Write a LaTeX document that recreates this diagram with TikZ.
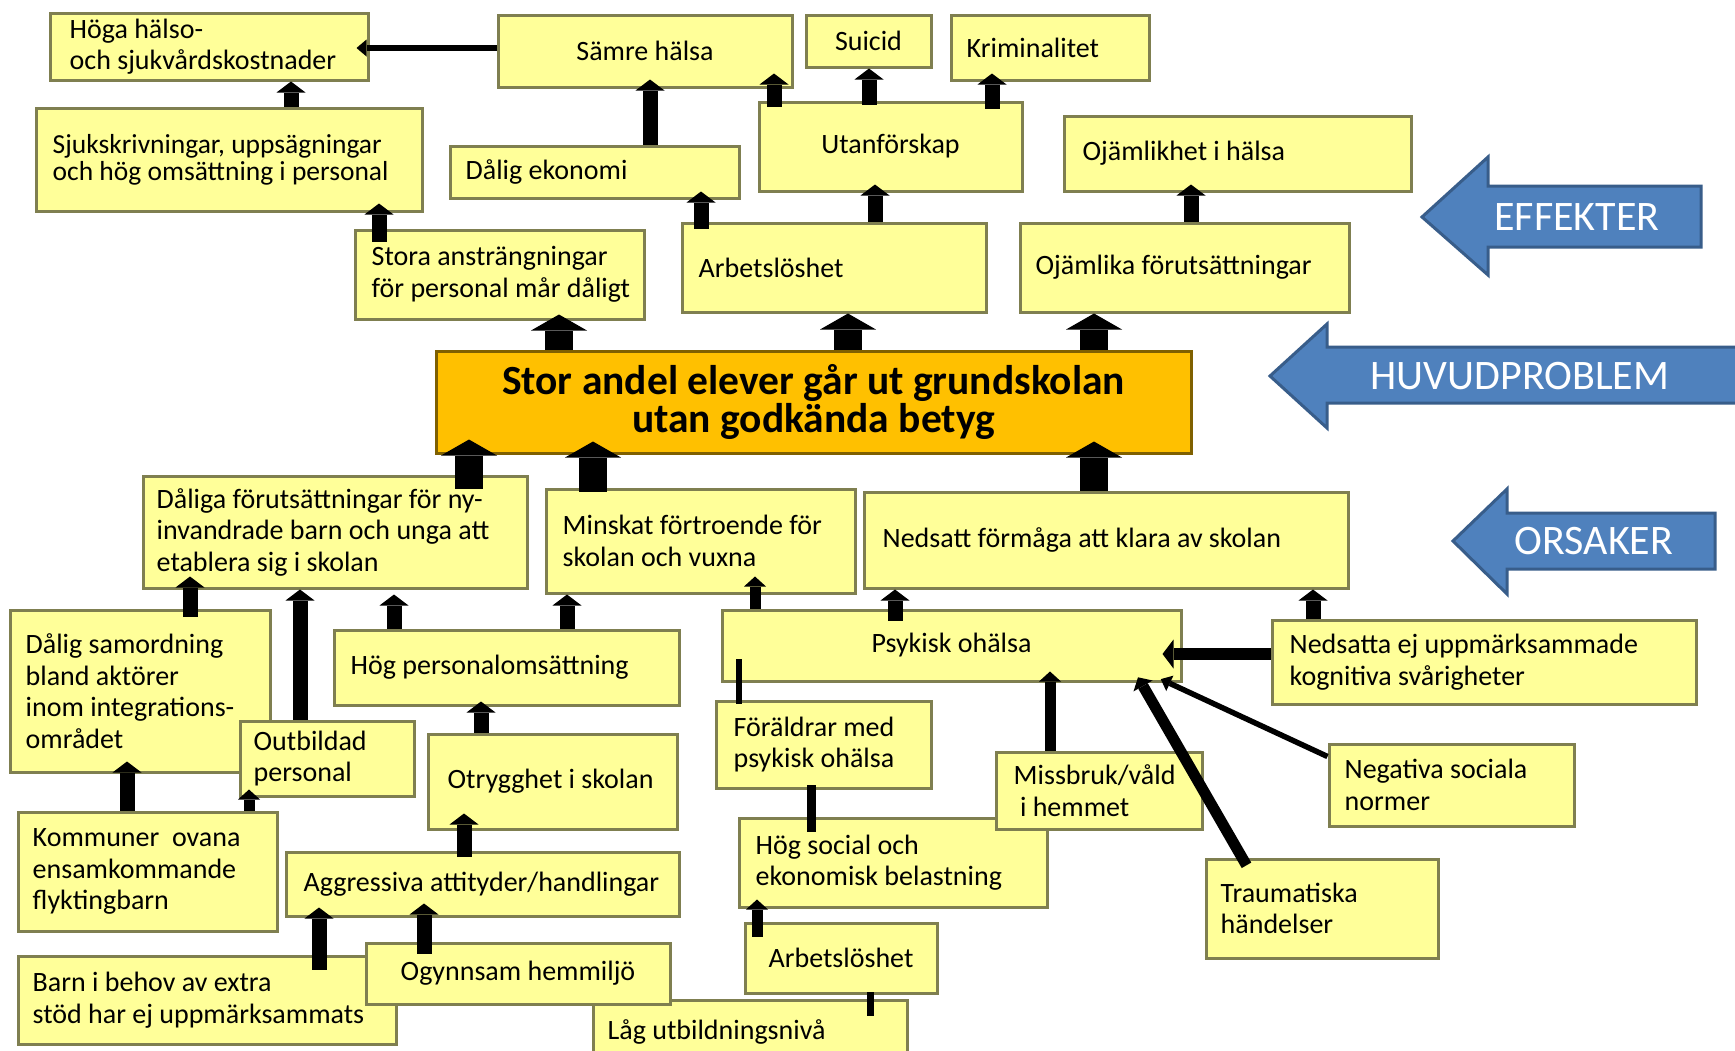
\documentclass[tikz,border=0pt]{standalone}
\usepackage{fontspec}
\setmainfont{Carlito}
\usepackage{xcolor}
\usetikzlibrary{arrows.meta}

\definecolor{gul}{HTML}{FFFF99}
\definecolor{kant}{HTML}{7F7F50}
\definecolor{huvudfarg}{HTML}{FFC000}
\definecolor{huvudkant}{HTML}{7F6000}
\definecolor{bla}{HTML}{4F81BD}
\definecolor{blakant}{HTML}{385D8A}

\begin{document}
\begin{tikzpicture}[x=1pt,y=-1pt]
    \tikzset{
        boks/.style={draw=kant, fill=gul, line width=3pt, inner sep=0pt},
        mittboks/.style={boks, font=\fontsize{28}{31.5}\selectfont},
        tekst/.style={anchor=west, inner sep=0pt, align=left, font=\fontsize{28}{31.5}\selectfont},
        storpil/.style={line width=28pt, -{Triangle[width=56pt,length=16pt,line width=0pt]}},
        pil/.style={line width=15pt, -{Triangle[width=29pt,length=11pt,line width=0pt]}},
        smalpil/.style={line width=11pt, -{Triangle[width=22pt,length=10pt,line width=0pt]}},
        tunnpil/.style={line width=5.5pt, -{Triangle[width=17pt,length=10pt,line width=0pt]}},
        linje/.style={line width=9pt},
        blapil/.style={fill=bla, draw=blakant, line width=3pt, line join=miter},
        blatekst/.style={text=white, inner sep=0pt, font=\fontsize{42}{42}\selectfont}
    }
    \useasboundingbox (0,0) rectangle (1735,1050);
    \clip (0,0) rectangle (1735,1050);
    \fill[white] (0,0) rectangle (1735,1050);

    % effekter, top row
    \node[boks, minimum width=318, minimum height=67] (hoga) at (209,46.5) {};
    \node[tekst] (hogatext) at ([xshift=21pt]hoga.west) {Höga hälso-\\och sjukvårdskostnader};
    \node[mittboks, minimum width=294, minimum height=72] (samre) at (645,51) {Sämre hälsa};
    \node[mittboks, minimum width=125, minimum height=52] (suicid) at (868.5,41) {Suicid};
    \node[boks, minimum width=198, minimum height=65] (krim) at (1050,47.5) {};
    \node[tekst] (krimtext) at ([xshift=17pt]krim.west) {Kriminalitet};

    % effekter, second row
    \node[boks, minimum width=386, minimum height=103] (sjuk) at (229,159.5) {};
    \node[tekst, font=\fontsize{27.5}{27}\selectfont] (sjuktext) at ([xshift=18pt]sjuk.west) {Sjukskrivningar, uppsägningar\\och hög omsättning i personal};
    \node[boks, minimum width=289, minimum height=52] (ekon) at (594.5,172) {};
    \node[tekst] (ekontext) at ([xshift=17pt]ekon.west) {Dålig ekonomi};
    \node[mittboks, minimum width=263, minimum height=89] (utanf) at (890.5,146.5) {Utanförskap};
    \node[boks, minimum width=347, minimum height=75] (ojh) at (1237.5,153.5) {};
    \node[tekst] (ojhtext) at ([xshift=20pt]ojh.west) {Ojämlikhet i hälsa};

    % effekter, third row
    \node[boks, minimum width=289, minimum height=89] (stora) at (499.5,274.5) {};
    \node[tekst] (storatext) at ([xshift=18pt]stora.west) {Stora ansträngningar\\för personal mår dåligt};
    \node[boks, minimum width=304, minimum height=89] (arb1) at (834,267.5) {};
    \node[tekst] (arb1text) at ([xshift=18pt]arb1.west) {Arbetslöshet};
    \node[boks, minimum width=329, minimum height=89] (ojl) at (1184.5,267.5) {};
    \node[tekst] (ojltext) at ([xshift=17pt]ojl.west) {Ojämlika förutsättningar};

    % huvudproblem
    \node[boks, fill=huvudfarg, draw=huvudkant, minimum width=755, minimum height=102, align=center,
          font=\bfseries\fontsize{41.5}{38}\selectfont] (huvud) at (813.5,402)
          {Stor andel elever går ut grundskolan\\utan godkända betyg};

    % orsaker, first row
    \node[boks, minimum width=384, minimum height=112] (dlfs) at (335,532) {};
    \node[tekst] (dlfstext) at ([xshift=15pt]dlfs.west) {Dåliga förutsättningar för ny-\\invandrade barn och unga att\\etablera sig i skolan};
    \node[boks, minimum width=309, minimum height=104] (minsk) at (700.5,541) {};
    \node[tekst] (minsktext) at ([xshift=18pt]minsk.west) {Minskat förtroende för\\skolan och vuxna};
    \node[boks, minimum width=484, minimum height=96] (nedf) at (1106,540) {};
    \node[tekst] (nedftext) at ([xshift=20pt]nedf.west) {Nedsatt förmåga att klara av skolan};

    % orsaker, left side
    \node[boks, minimum width=260, minimum height=162] (samord) at (140,691) {};
    \node[tekst] (samordtext) at ([xshift=17pt]samord.west) {Dålig samordning\\bland aktörer\\inom integrations-\\området};
    \node[boks, minimum width=174, minimum height=75] (outb) at (327,758.5) {};
    \node[tekst] (outbtext) at ([xshift=15pt]outb.west) {Outbildad\\personal};
    \node[boks, minimum width=345, minimum height=75] (hogp) at (506.5,667.5) {};
    \node[tekst] (hogptext) at ([xshift=18pt]hogp.west) {Hög personalomsättning};
    \node[boks, minimum width=249, minimum height=95] (otr) at (552.5,781.5) {};
    \node[tekst] (otrtext) at ([xshift=21pt]otr.west) {Otrygghet i skolan};
    \node[boks, minimum width=259, minimum height=119] (komm) at (147.5,871.5) {};
    \node[tekst] (kommtext) at ([xshift=16pt]komm.west) {Kommuner\ \ ovana\\ensamkommande\\flyktingbarn};
    \node[boks, minimum width=393, minimum height=64] (aggr) at (482.5,884) {};
    \node[tekst] (aggrtext) at ([xshift=19pt]aggr.west) {Aggressiva attityder/handlingar};
    \node[boks, minimum width=378, minimum height=88] (barn) at (207,1000) {};
    \node[tekst] (barntext) at ([xshift=16pt]barn.west) {Barn i behov av extra\\stöd har ej uppmärksammats};
    \node[boks, minimum width=314, minimum height=64] (lag) at (750,1032) {};
    \node[tekst] (lagtext) at ([xshift=16pt]lag.west) {Låg utbildningsnivå};
    \node[mittboks, minimum width=304, minimum height=61] (ogyn) at (518,973.5) {Ogynnsam hemmiljö};

    % orsaker, right side
    \node[mittboks, minimum width=459, minimum height=71] (psyk) at (951.5,645.5) {Psykisk ohälsa};
    \node[boks, minimum width=424, minimum height=84] (kogn) at (1484,662) {};
    \node[tekst] (kogntext) at ([xshift=19pt]kogn.west) {Nedsatta ej uppmärksammade\\kognitiva svårigheter};
    \node[boks, minimum width=215, minimum height=87] (foral) at (823.5,744.5) {};
    \node[tekst] (foraltext) at ([xshift=19pt]foral.west) {Föräldrar med\\psykisk ohälsa};
    \node[boks, minimum width=308, minimum height=89] (hogs) at (893,862.5) {};
    \node[tekst] (hogstext) at ([xshift=18pt]hogs.west) {Hög social och\\ekonomisk belastning};
    \node[boks, minimum width=206, minimum height=77] (missb) at (1099,790.5) {};
    \node[tekst] (missbtext) at ([xshift=19pt]missb.west) {Missbruk/våld\\\ i hemmet};
    \node[boks, minimum width=245, minimum height=82] (neg) at (1451.5,785) {};
    \node[tekst] (negtext) at ([xshift=17pt]neg.west) {Negativa sociala\\normer};
    \node[boks, minimum width=232, minimum height=99] (traum) at (1322,908.5) {};
    \node[tekst] (traumtext) at ([xshift=16pt]traum.west) {Traumatiska\\händelser};
    \node[mittboks, minimum width=192, minimum height=70] (arb2) at (841,958) {Arbetslöshet};

    % blue labels
    \draw[blapil] (1422,217) -- (1488,157) -- (1488,186) -- (1701,186) -- (1701,247) -- (1488,247) -- (1488,275) -- cycle;
    \node[blatekst] (effekter) at (1577,217) {EFFEKTER};
    \draw[blapil] (1270,376) -- (1327,324) -- (1327,347) -- (1760,347) -- (1760,403) -- (1327,403) -- (1327,428) -- cycle;
    \node[blatekst] (huvudord) at (1520,376) {HUVUDPROBLEM};
    \draw[blapil] (1453,541) -- (1507,489) -- (1507,513) -- (1715,513) -- (1715,569) -- (1507,569) -- (1507,594) -- cycle;
    \node[blatekst] (orsaker) at (1594,541) {ORSAKER};

    % arrows among the effects
    \draw[pil] (291,0 |- sjuk.north) -- (291,0 |- hoga.south);
    \draw[pil, shorten <=-13pt, shorten >=-9pt] (379,0 |- stora.north) -- (379,0 |- sjuk.south);
    \draw[tunnpil, shorten >=-13pt] (samre.west |- 0,48) -- (hoga.east |- 0,48);
    \draw[pil, shorten >=-9pt] (650,0 |- ekon.north) -- (650,0 |- samre.south);
    \draw[pil, shorten <=-6pt, shorten >=-15pt] (774,0 |- utanf.north) -- (774,0 |- samre.south);
    \draw[pil, shorten <=-4pt] (869,0 |- utanf.north) -- (869,0 |- suicid.south);
    \draw[pil, shorten <=-8pt, shorten >=-8pt] (992,0 |- utanf.north) -- (992,0 |- krim.south);
    \draw[pil, shorten <=-7pt, shorten >=-8pt] (701,0 |- arb1.north) -- (701,0 |- ekon.south);
    \draw[pil, shorten >=-8pt] (875,0 |- arb1.north) -- (875,0 |- utanf.south);
    \draw[pil, shorten >=-8pt] (1191,0 |- ojl.north) -- (1191,0 |- ojh.south);

    % arrows to and from the main problem
    \draw[storpil, shorten >=-6pt] (559,0 |- huvud.north) -- (559,0 |- stora.south);
    \draw[storpil] (848,0 |- huvud.north) -- (848,0 |- arb1.south);
    \draw[storpil] (1094,0 |- huvud.north) -- (1094,0 |- ojl.south);
    \draw[storpil, shorten <=-14pt, shorten >=-15pt] (469,0 |- dlfs.north) -- (469,0 |- huvud.south);
    \draw[storpil, shorten <=-4pt, shorten >=-13pt] (593,0 |- minsk.north) -- (593,0 |- huvud.south);
    \draw[storpil, shorten >=-13pt] (1094,0 |- nedf.north) -- (1094,0 |- huvud.south);

    % arrows among the causes, left
    \draw[pil, shorten <=-8pt, shorten >=-13pt] (190,0 |- samord.north) -- (190,0 |- dlfs.south);
    \draw[pil] (300,0 |- outb.north) -- (300,0 |- dlfs.south);
    \draw[pil, shorten >=5pt] (394,0 |- hogp.north) -- (394,0 |- dlfs.south);
    \draw[pil] (567,0 |- hogp.north) -- (567,0 |- minsk.south);
    \draw[pil, shorten >=-5pt] (481,0 |- otr.north) -- (481,0 |- hogp.south);
    \draw[pil, shorten <=-6pt, shorten >=-17pt] (464,0 |- aggr.north) -- (464,0 |- otr.south);
    \draw[pil, shorten <=-15pt, shorten >=-10pt] (319,0 |- barn.north) -- (319,0 |- aggr.south);
    \draw[pil, shorten <=-12pt, shorten >=-14pt] (424,0 |- ogyn.north) -- (424,0 |- aggr.south);
    \draw[pil, shorten >=-12pt] (127,0 |- komm.north) -- (127,0 |- samord.south);
    \draw[smalpil, shorten >=-8pt] (249,0 |- komm.north) -- (249,0 |- outb.south);

    % arrows among the causes, right
    \draw[smalpil, shorten >=-18pt] (755,0 |- psyk.north) -- (755,0 |- minsk.south);
    \draw[pil, shorten <=-12pt] (895,0 |- psyk.north) -- (895,0 |- nedf.south);
    \draw[pil] (1313,0 |- kogn.north) -- (1313,0 |- nedf.south);
    \draw[pil, line width=12pt, shorten >=-20pt] (kogn.west |- 0,654) -- (psyk.east |- 0,654);
    \draw[linje, line width=6pt, shorten <=-4pt, shorten >=-24pt] (739,0 |- foral.north) -- (739,0 |- psyk.south);
    \draw[smalpil, shorten >=-11pt] (1050,0 |- missb.north) -- (1050,0 |- psyk.south);
    \draw[smalpil, shorten <=-9pt, shorten >=-6pt] (1242,0 |- traum.north) -- (1141,0 |- psyk.south);
    \draw[tunnpil, shorten >=-8pt] ([yshift=-14pt]neg.north west) -- (1168,0 |- psyk.south);
    \draw[linje, shorten <=-15pt, shorten >=-5pt] (811,0 |- hogs.north) -- (811,0 |- foral.south);
    \draw[smalpil, shorten <=-15pt, shorten >=-9pt] (757,0 |- arb2.north) -- (757,0 |- hogs.south);
    \draw[linje, line width=7pt, shorten <=-17pt, shorten >=-3pt] (870,0 |- lag.north) -- (870,0 |- arb2.south);
\end{tikzpicture}
\end{document}
